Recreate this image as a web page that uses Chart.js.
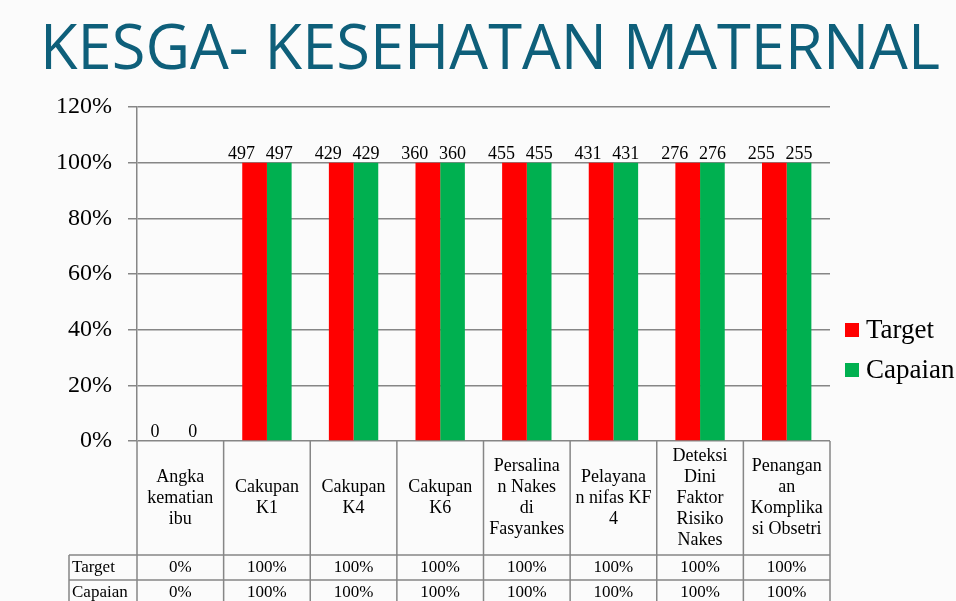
<!DOCTYPE html>
<html>
<head>
<meta charset="utf-8">
<script src="https://cdn.jsdelivr.net/npm/chart.js@4.4.1/dist/chart.umd.min.js"></script>
<style>
  html,body{margin:0;padding:0;background:#fbfbfb;}
  #wrap{position:relative;width:956px;height:601px;overflow:hidden;}
  canvas{display:block;}
</style>
</head>
<body>
<div id="wrap"><canvas id="c" width="956" height="601"></canvas></div>
<script>
const titleText = "KESGA- KESEHATAN MATERNAL";
const categories = [
  ["Angka","kematian","ibu"],
  ["Cakupan","K1"],
  ["Cakupan","K4"],
  ["Cakupan","K6"],
  ["Persalina","n Nakes","di","Fasyankes"],
  ["Pelayana","n nifas KF","4"],
  ["Deteksi","Dini","Faktor","Risiko","Nakes"],
  ["Penangan","an","Komplika","si Obsetri"]
];
const seriesNames = ["Target","Capaian"];
const targetPct  = [0,100,100,100,100,100,100,100];
const capaianPct = [0,100,100,100,100,100,100,100];
const targetCount  = ["0","497","429","360","455","431","276","255"];
const capaianCount = ["0","497","429","360","455","431","276","255"];
const yTicks = [0,20,40,60,80,100,120];

const serif = '"Liberation Serif", "DejaVu Serif", serif';
const lineColor = '#868686';
const colors = ['#ff0000','#00b050'];
const counts = [targetCount, capaianCount];
const pcts = [targetPct, capaianPct];

const overlay = {
  id:'overlay',
  afterDraw(chart){
    const {ctx, chartArea:ca, scales:{x}} = chart;
    const n = categories.length;
    const step = x.getPixelForValue(1) - x.getPixelForValue(0);
    const bounds = [];
    for(let i=0;i<n;i++) bounds.push(x.getPixelForValue(i)-step/2);
    bounds.push(x.getPixelForValue(n-1)+step/2);
    const top = ca.bottom;
    const r1 = top + 114, r2 = r1 + 25, r3 = r2 + 25;
    const headLeft = 69;
    ctx.save();
    // title
    ctx.fillStyle = '#0e5f7a';
    ctx.font = '63px "Open Sans", Lato, sans-serif';
    ctx.textBaseline = 'alphabetic';
    ctx.textAlign = 'left';
    const w = ctx.measureText(titleText).width;
    ctx.save();
    ctx.translate(40, 69);
    ctx.scale(900 / w, 1);
    ctx.fillText(titleText, 0, 0);
    ctx.restore();

    // table lines
    ctx.strokeStyle = lineColor;
    ctx.lineWidth = 1.5;
    ctx.beginPath();
    bounds.forEach(b=>{ ctx.moveTo(b, top); ctx.lineTo(b, chart.height); });
    ctx.moveTo(headLeft, r1); ctx.lineTo(bounds[n], r1);
    ctx.moveTo(headLeft, r2); ctx.lineTo(bounds[n], r2);
    ctx.moveTo(headLeft, r1); ctx.lineTo(headLeft, chart.height);
    ctx.stroke();

    // category labels
    ctx.fillStyle = '#000';
    ctx.font = '18px ' + serif;
    ctx.textAlign = 'center';
    ctx.textBaseline = 'middle';
    const lh = 21;
    categories.forEach((lines,i)=>{
      const cx = (bounds[i]+bounds[i+1])/2;
      const cy = (top + r1)/2;
      const y0 = cy - (lines.length-1)*lh/2;
      lines.forEach((t,k)=> ctx.fillText(t, cx, y0 + k*lh));
    });
    // table rows
    ctx.font = '17px ' + serif;
    const rowsY = [(r1+r2)/2, (r2+r3)/2];
    seriesNames.forEach((name,s)=>{
      ctx.textAlign = 'left';
      ctx.fillText(name, headLeft+3, rowsY[s]);
      ctx.textAlign = 'center';
      pcts[s].forEach((v,i)=>{
        ctx.fillText(v + '%', (bounds[i]+bounds[i+1])/2, rowsY[s]);
      });
    });

    // data labels
    ctx.font = '18px ' + serif;
    ctx.textBaseline = 'alphabetic';
    ctx.textAlign = 'center';
    chart.data.datasets.forEach((ds,s)=>{
      const meta = chart.getDatasetMeta(s);
      meta.data.forEach((bar,i)=>{
        const off = s===0 ? -13 : 0;
        ctx.fillText(counts[s][i], bar.x + off, bar.y - 4);
      });
    });

    // legend
    ctx.font = '27px ' + serif;
    ctx.textAlign = 'left';
    ctx.textBaseline = 'alphabetic';
    chart.data.datasets.forEach((ds,s)=>{
      const yy = 323 + s*40;
      ctx.fillStyle = ds.backgroundColor;
      ctx.fillRect(845, yy, 14, 14);
      ctx.fillStyle = '#000';
      ctx.fillText(ds.label, 866, yy + 15);
    });
    ctx.restore();
  }
};

new Chart(document.getElementById('c'), {
  type:'bar',
  data:{
    labels: categories.map(c=>c.join(' ')),
    datasets:[
      {label:seriesNames[0], data:targetPct, backgroundColor:colors[0], borderWidth:0},
      {label:seriesNames[1], data:capaianPct, backgroundColor:colors[1], borderWidth:0}
    ]
  },
  options:{
    responsive:false,
    animation:false,
    events:[],
    layout:{padding:{top:107, right:126, bottom:0, left:0}},
    datasets:{bar:{categoryPercentage:0.57, barPercentage:1}},
    plugins:{legend:{display:false}, title:{display:false}, tooltip:{enabled:false}},
    scales:{
      x:{
        ticks:{display:false},
        grid:{display:false},
        border:{display:false},
        afterFit(s){ s.height = 160; }
      },
      y:{
        min:0, max:120,
        afterBuildTicks(s){ s.ticks = yTicks.map(v=>({value:v})); },
        ticks:{
          callback:v=>v+'%',
          color:'#000',
          font:{family:serif, size:24},
          padding:16
        },
        grid:{color:lineColor, lineWidth:1.5, tickLength:9},
        border:{display:true, color:lineColor, width:1.5},
        afterFit(s){ s.width = 137; }
      }
    }
  },
  plugins:[overlay]
});
</script>
</body>
</html>
